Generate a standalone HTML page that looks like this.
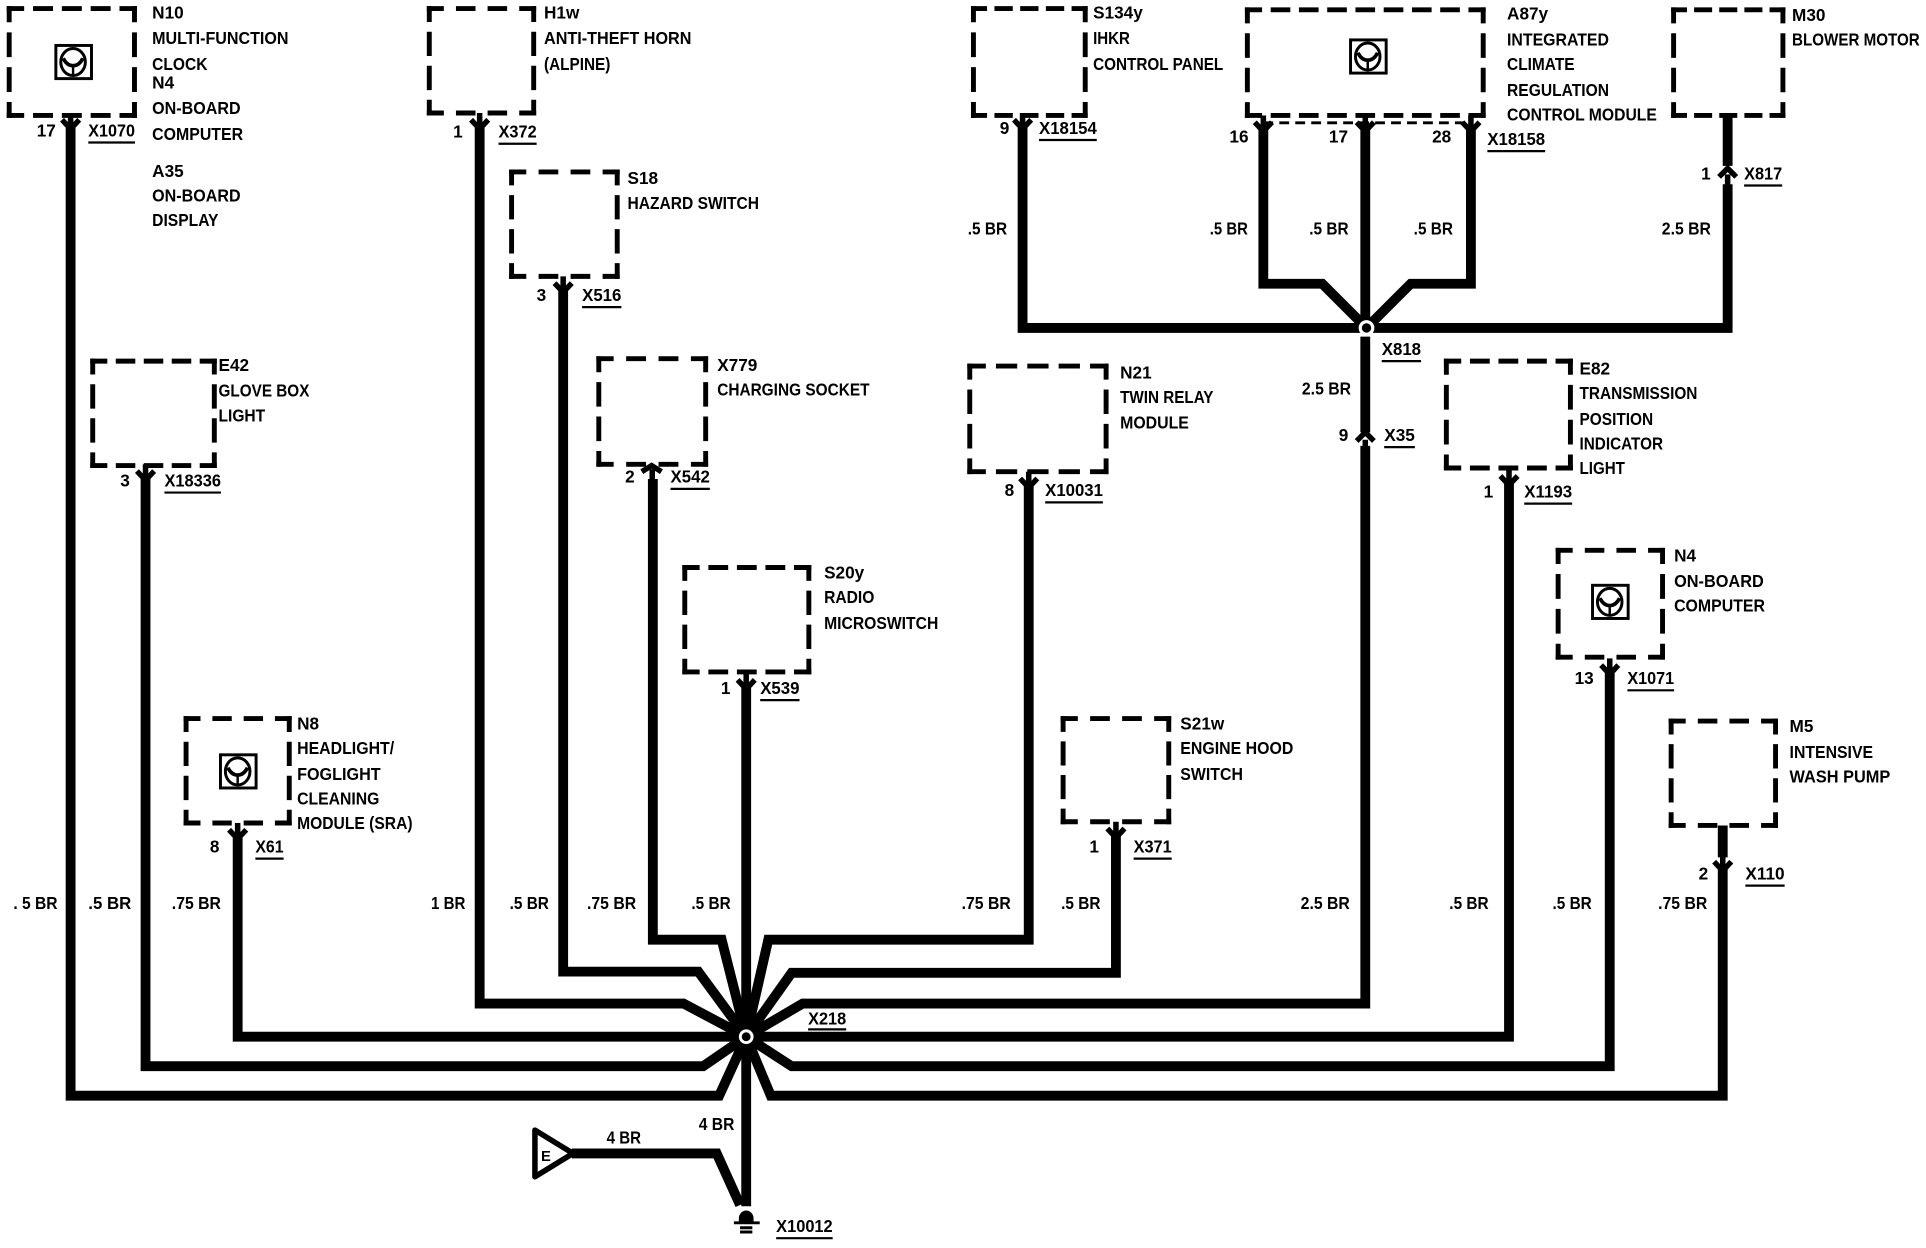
<!DOCTYPE html>
<html><head><meta charset="utf-8"><title>Wiring diagram</title>
<style>
html,body{margin:0;padding:0;background:#fff}
svg{display:block}
text{font-family:"Liberation Sans",sans-serif;font-weight:bold;font-size:14px;fill:#000}
.w{fill:none;stroke:#000;stroke-width:8;stroke-linejoin:miter}
.h3,.h4,.h8,.v{fill:none;stroke:#000;stroke-width:4;stroke-linecap:square}
.h3{stroke-dasharray:11.6 16.3 14 16.3 14 16.3 30}
.h4{stroke-dasharray:10 11 12 11 12 11 12 11 30}
.h8{stroke-dasharray:5.2 5.73 6.25 5.73 6.25 5.73 6.25 5.73 6.25 5.73 6.25 5.73 6.25 5.73 6.25 5.73 20}
.v{stroke-dasharray:10.5 14 18.6 14 18.6 14 30}
.c{fill:none;stroke:#000;stroke-width:4.4}
.s{fill:none;stroke:#000;stroke-width:4.5}
.u{fill:none;stroke:#000;stroke-width:1.8}
</style></head><body>
<svg width="1926" height="1248" viewBox="0 0 1567 1016" xmlns="http://www.w3.org/2000/svg">
<defs>
<g id="dn"><path class="c" d="M-7 -6.5 L0 1 L7 -6.5"/><path class="s" d="M0 -12 V3"/></g>
<g id="ic"><rect x="-14" y="-13.5" width="29" height="27" fill="#fff" stroke="#000" stroke-width="2.4"/><ellipse rx="10" ry="11" fill="none" stroke="#000" stroke-width="2.4"/><path d="M-8 -3 Q-5 3 0 3 Q5 3 8 -3" fill="none" stroke="#000" stroke-width="3"/><path d="M0 3 V11" fill="none" stroke="#000" stroke-width="2"/></g>
</defs>

<!-- wires to X218 -->
<path class="w" d="M57 104 V892 H585 L607 844"/>
<path class="w" d="M118 390 V868 H572 L607 844"/>
<path class="w" d="M193 682 V844 H607"/>
<path class="w" d="M390 104 V817 H556 L607 844"/>
<path class="w" d="M458 237 V791 H568 L607 844"/>
<path class="w" d="M531 390 V765 H587 L607 844"/>
<path class="w" d="M607 560 V982"/>
<path class="w" d="M837 396 V765 H625 L607 844"/>
<path class="w" d="M908 681 V792 H644 L607 844"/>
<path class="w" d="M1111 363 V817 H653 L607 844"/>
<path class="w" d="M1228 394 V844 H607"/>
<path class="w" d="M1310 548 V868 H644 L607 844"/>
<path class="w" d="M1402 708 V892 H627 L607 844"/>
<path class="w" d="M1402 672 V698"/>
<path class="w" d="M465 939 H583 L602 981"/>
<circle cx="607" cy="844" r="13" fill="#000"/>
<circle cx="607" cy="844" r="6" fill="#fff"/>
<circle cx="607" cy="844" r="3.6" fill="#000"/>

<!-- wires to X818 -->
<path class="w" d="M832 104 V267 H1112"/>
<path class="w" d="M1406 94 V135 M1406 150 V267 H1112"/>
<path class="w" d="M1028 106 V231 H1076 L1112 267"/>
<path class="w" d="M1197 106 V231 H1148 L1112 267"/>
<path class="w" d="M1111 106 V267"/>
<path class="w" d="M1111 274 V352"/>
<circle cx="1112" cy="267" r="6.4" fill="#fff"/>
<circle cx="1112" cy="267" r="3.8" fill="#000"/>

<!-- dashed boxes -->
<path class="h4" pathLength="200" d="M7 7H109M7 94H109"/><path class="v" pathLength="200" d="M7 7V94M109 7V94"/>
<path class="h3" pathLength="200" d="M349 7H434M349 92H434"/><path class="v" pathLength="200" d="M349 7V92M434 7V92"/>
<path class="h3" pathLength="200" d="M416 140H502M416 225H502"/><path class="v" pathLength="200" d="M416 140V225M502 140V225"/>
<path class="h4" pathLength="200" d="M75 294H174M75 379H174"/><path class="v" pathLength="200" d="M75 294V379M174 294V379"/>
<path class="h3" pathLength="200" d="M487 292H574M487 378H574"/><path class="v" pathLength="200" d="M487 292V378M574 292V378"/>
<path class="h4" pathLength="200" d="M557 462H658M557 547H658"/><path class="v" pathLength="200" d="M557 462V547M658 462V547"/>
<path class="h3" pathLength="200" d="M151 585H235M151 670H235"/><path class="v" pathLength="200" d="M151 585V670M235 585V670"/>
<path class="h4" pathLength="200" d="M789 298H900M789 384H900"/><path class="v" pathLength="200" d="M789 298V384M900 298V384"/>
<path class="h3" pathLength="200" d="M865 585H951M865 669H951"/><path class="v" pathLength="200" d="M865 585V669M951 585V669"/>
<path class="h4" pathLength="200" d="M792 7H883M792 94H883"/><path class="v" pathLength="200" d="M792 7V94M883 7V94"/>
<path class="h8" pathLength="200" d="M1015 8H1207M1015 94H1207"/><path class="v" pathLength="200" d="M1015 8V94M1207 8V94"/>
<path class="h4" pathLength="200" d="M1362 8H1451M1362 94H1451"/><path class="v" pathLength="200" d="M1362 8V94M1451 8V94"/>
<path class="h4" pathLength="200" d="M1177 294H1278M1177 381H1278"/><path class="v" pathLength="200" d="M1177 294V381M1278 294V381"/>
<path class="h3" pathLength="200" d="M1268 448H1353M1268 535H1353"/><path class="v" pathLength="200" d="M1268 448V535M1353 448V535"/>
<path class="h3" pathLength="200" d="M1360 587H1445M1360 672H1445"/><path class="v" pathLength="200" d="M1360 587V672M1445 587V672"/>
<path d="M1028 100 H1197" fill="none" stroke="#000" stroke-width="2.4" stroke-dasharray="8 5"/>

<!-- icons -->
<use href="#ic" x="59" y="50.5"/>
<use href="#ic" x="1113" y="46"/>
<use href="#ic" x="193" y="628"/>
<use href="#ic" x="1310" y="490"/>

<!-- connector chevrons -->
<use href="#dn" x="57" y="104"/><use href="#dn" x="390" y="104"/><use href="#dn" x="458" y="237"/>
<use href="#dn" x="118" y="390"/><use href="#dn" x="607" y="560"/><use href="#dn" x="193" y="682"/>
<use href="#dn" x="837" y="396"/><use href="#dn" x="908" y="681"/><use href="#dn" x="1228" y="394"/>
<use href="#dn" x="1310" y="548"/><use href="#dn" x="1402" y="708"/><use href="#dn" x="832" y="104"/>
<use href="#dn" x="1028" y="106"/><use href="#dn" x="1111" y="106"/><use href="#dn" x="1197" y="106"/>
<path class="c" d="M522 384 L530 379 L538 384"/><path class="s" d="M530.5 382 V391"/>
<path class="c" d="M1399 144 L1406 137 L1413 144"/><path class="s" d="M1406 142 V152"/>
<path class="c" d="M1104 359 L1111 352 L1118 359"/><path class="s" d="M1111 358 V365"/>

<!-- ground + E -->
<path d="M435 920 L466 939 L435 958 Z" fill="#fff" stroke="#000" stroke-width="4.5" stroke-linejoin="round"/>
<text x="440" y="945" style="font-size:12px">E</text>
<path d="M601 995 V992 A6 6.5 0 0 1 613 992 V995 Z" fill="#000"/>
<path d="M597 995.5 H618 M602 999.5 H612 M602 1003 H612" fill="none" stroke="#000" stroke-width="2.4"/>

<g transform="translate(-0.6,0)">
<!-- component labels -->
<text x="124" y="15">N10</text>
<text x="124" y="36" textLength="111" lengthAdjust="spacingAndGlyphs">MULTI-FUNCTION</text>
<text x="124" y="57" textLength="45" lengthAdjust="spacingAndGlyphs">CLOCK</text>
<text x="124" y="72">N4</text>
<text x="124" y="93" textLength="72" lengthAdjust="spacingAndGlyphs">ON-BOARD</text>
<text x="124" y="114" textLength="74" lengthAdjust="spacingAndGlyphs">COMPUTER</text>
<text x="124" y="144">A35</text>
<text x="124" y="164" textLength="72" lengthAdjust="spacingAndGlyphs">ON-BOARD</text>
<text x="124" y="184" textLength="54" lengthAdjust="spacingAndGlyphs">DISPLAY</text>

<text x="443" y="15">H1w</text>
<text x="443" y="36" textLength="120" lengthAdjust="spacingAndGlyphs">ANTI-THEFT HORN</text>
<text x="443" y="57" textLength="54" lengthAdjust="spacingAndGlyphs">(ALPINE)</text>

<text x="511" y="150">S18</text>
<text x="511" y="170" textLength="107" lengthAdjust="spacingAndGlyphs">HAZARD SWITCH</text>

<text x="178" y="302">E42</text>
<text x="178" y="323" textLength="74" lengthAdjust="spacingAndGlyphs">GLOVE BOX</text>
<text x="178" y="343" textLength="38" lengthAdjust="spacingAndGlyphs">LIGHT</text>

<text x="584" y="302">X779</text>
<text x="584" y="322" textLength="124" lengthAdjust="spacingAndGlyphs">CHARGING SOCKET</text>

<text x="671" y="471">S20y</text>
<text x="671" y="491" textLength="41" lengthAdjust="spacingAndGlyphs">RADIO</text>
<text x="671" y="512" textLength="93" lengthAdjust="spacingAndGlyphs">MICROSWITCH</text>

<text x="242" y="594">N8</text>
<text x="242" y="614" textLength="79" lengthAdjust="spacingAndGlyphs">HEADLIGHT/</text>
<text x="242" y="635" textLength="68" lengthAdjust="spacingAndGlyphs">FOGLIGHT</text>
<text x="242" y="655" textLength="67" lengthAdjust="spacingAndGlyphs">CLEANING</text>
<text x="242" y="675" textLength="94" lengthAdjust="spacingAndGlyphs">MODULE (SRA)</text>

<text x="912" y="308">N21</text>
<text x="912" y="328" textLength="76" lengthAdjust="spacingAndGlyphs">TWIN RELAY</text>
<text x="912" y="349" textLength="56" lengthAdjust="spacingAndGlyphs">MODULE</text>

<text x="961" y="594">S21w</text>
<text x="961" y="614" textLength="92" lengthAdjust="spacingAndGlyphs">ENGINE HOOD</text>
<text x="961" y="635" textLength="51" lengthAdjust="spacingAndGlyphs">SWITCH</text>

<text x="890" y="15">S134y</text>
<text x="890" y="36" textLength="30" lengthAdjust="spacingAndGlyphs">IHKR</text>
<text x="890" y="57" textLength="106" lengthAdjust="spacingAndGlyphs">CONTROL PANEL</text>

<text x="1227" y="16">A87y</text>
<text x="1227" y="37" textLength="83" lengthAdjust="spacingAndGlyphs">INTEGRATED</text>
<text x="1227" y="57" textLength="55" lengthAdjust="spacingAndGlyphs">CLIMATE</text>
<text x="1227" y="78" textLength="83" lengthAdjust="spacingAndGlyphs">REGULATION</text>
<text x="1227" y="98" textLength="122" lengthAdjust="spacingAndGlyphs">CONTROL MODULE</text>

<text x="1459" y="17">M30</text>
<text x="1459" y="37" textLength="104" lengthAdjust="spacingAndGlyphs">BLOWER MOTOR</text>

<text x="1286" y="305">E82</text>
<text x="1286" y="325" textLength="96" lengthAdjust="spacingAndGlyphs">TRANSMISSION</text>
<text x="1286" y="346" textLength="60" lengthAdjust="spacingAndGlyphs">POSITION</text>
<text x="1286" y="366" textLength="68" lengthAdjust="spacingAndGlyphs">INDICATOR</text>
<text x="1286" y="386" textLength="37" lengthAdjust="spacingAndGlyphs">LIGHT</text>

<text x="1363" y="457">N4</text>
<text x="1363" y="478" textLength="73" lengthAdjust="spacingAndGlyphs">ON-BOARD</text>
<text x="1363" y="498" textLength="74" lengthAdjust="spacingAndGlyphs">COMPUTER</text>

<text x="1457" y="596">M5</text>
<text x="1457" y="617" textLength="68" lengthAdjust="spacingAndGlyphs">INTENSIVE</text>
<text x="1457" y="637" textLength="82" lengthAdjust="spacingAndGlyphs">WASH PUMP</text>

<!-- pins and connectors -->
<text x="30" y="111">17</text><text x="72" y="111" textLength="38" lengthAdjust="spacingAndGlyphs">X1070</text>
<text x="369" y="112">1</text><text x="406" y="112" textLength="31" lengthAdjust="spacingAndGlyphs">X372</text>
<text x="437" y="245">3</text><text x="474" y="245" textLength="32" lengthAdjust="spacingAndGlyphs">X516</text>
<text x="98" y="396">3</text><text x="134" y="396" textLength="46" lengthAdjust="spacingAndGlyphs">X18336</text>
<text x="509" y="393">2</text><text x="546" y="393" textLength="32" lengthAdjust="spacingAndGlyphs">X542</text>
<text x="587" y="565">1</text><text x="619" y="565" textLength="32" lengthAdjust="spacingAndGlyphs">X539</text>
<text x="171" y="694">8</text><text x="208" y="694" textLength="23" lengthAdjust="spacingAndGlyphs">X61</text>
<text x="818" y="404">8</text><text x="851" y="404" textLength="47" lengthAdjust="spacingAndGlyphs">X10031</text>
<text x="887" y="694">1</text><text x="923" y="694" textLength="31" lengthAdjust="spacingAndGlyphs">X371</text>
<text x="1208" y="405">1</text><text x="1241" y="405" textLength="39" lengthAdjust="spacingAndGlyphs">X1193</text>
<text x="1282" y="557">13</text><text x="1325" y="557" textLength="38" lengthAdjust="spacingAndGlyphs">X1071</text>
<text x="1383" y="716">2</text><text x="1421" y="716" textLength="32" lengthAdjust="spacingAndGlyphs">X110</text>
<text x="814" y="109">9</text><text x="846" y="109" textLength="47" lengthAdjust="spacingAndGlyphs">X18154</text>
<text x="1001" y="116">16</text><text x="1082" y="116">17</text><text x="1166" y="116">28</text>
<text x="1211" y="118" textLength="47" lengthAdjust="spacingAndGlyphs">X18158</text>
<text x="1385" y="146">1</text><text x="1420" y="146" textLength="31" lengthAdjust="spacingAndGlyphs">X817</text>
<text x="1125" y="289" textLength="32" lengthAdjust="spacingAndGlyphs">X818</text>
<text x="1090" y="359">9</text><text x="1127" y="359" textLength="25" lengthAdjust="spacingAndGlyphs">X35</text>
<text x="658" y="834" textLength="31" lengthAdjust="spacingAndGlyphs">X218</text>
<text x="632" y="1003" textLength="46" lengthAdjust="spacingAndGlyphs">X10012</text>
<path class="u" d="M72 116H110M406 117H437M474 250H506M134 401H180M546 398H578M619 570H651M208 699H231M851 409H898M923 699H954M1241 410H1280M1325 562H1363M1421 721H1453M846 114H893M1211 123H1258M1420 151H1451M1125 294H1157M1127 364H1152M658 838H689M632 1008H678"/>

<!-- wire gauges -->
<text x="788" y="191" textLength="32" lengthAdjust="spacingAndGlyphs">.5 BR</text>
<text x="985" y="191" textLength="31" lengthAdjust="spacingAndGlyphs">.5 BR</text>
<text x="1066" y="191" textLength="32" lengthAdjust="spacingAndGlyphs">.5 BR</text>
<text x="1151" y="191" textLength="32" lengthAdjust="spacingAndGlyphs">.5 BR</text>
<text x="1353" y="191" textLength="40" lengthAdjust="spacingAndGlyphs">2.5 BR</text>
<text x="1060" y="321" textLength="40" lengthAdjust="spacingAndGlyphs">2.5 BR</text>
<text x="11" y="740" textLength="36" lengthAdjust="spacingAndGlyphs">. 5 BR</text>
<text x="72" y="740" textLength="35" lengthAdjust="spacingAndGlyphs">.5 BR</text>
<text x="140" y="740" textLength="40" lengthAdjust="spacingAndGlyphs">.75 BR</text>
<text x="351" y="740" textLength="28" lengthAdjust="spacingAndGlyphs">1 BR</text>
<text x="415" y="740" textLength="32" lengthAdjust="spacingAndGlyphs">.5 BR</text>
<text x="478" y="740" textLength="40" lengthAdjust="spacingAndGlyphs">.75 BR</text>
<text x="563" y="740" textLength="32" lengthAdjust="spacingAndGlyphs">.5 BR</text>
<text x="783" y="740" textLength="40" lengthAdjust="spacingAndGlyphs">.75 BR</text>
<text x="864" y="740" textLength="32" lengthAdjust="spacingAndGlyphs">.5 BR</text>
<text x="1059" y="740" textLength="40" lengthAdjust="spacingAndGlyphs">2.5 BR</text>
<text x="1180" y="740" textLength="32" lengthAdjust="spacingAndGlyphs">.5 BR</text>
<text x="1264" y="740" textLength="32" lengthAdjust="spacingAndGlyphs">.5 BR</text>
<text x="1350" y="740" textLength="40" lengthAdjust="spacingAndGlyphs">.75 BR</text>
<text x="569" y="920" textLength="29" lengthAdjust="spacingAndGlyphs">4 BR</text>
<text x="494" y="931" textLength="28" lengthAdjust="spacingAndGlyphs">4 BR</text>
</g>
</svg>
</body></html>
